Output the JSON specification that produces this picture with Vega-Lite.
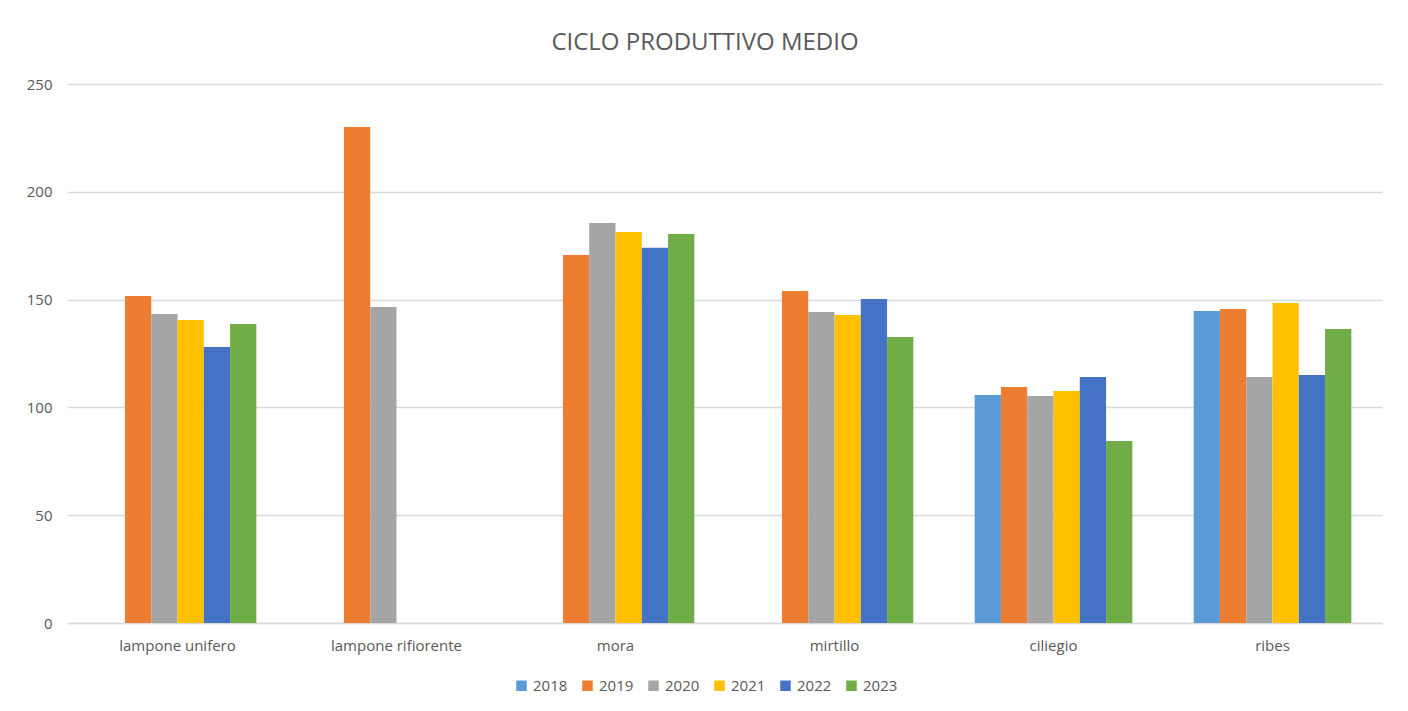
{
  "$schema": "https://vega.github.io/schema/vega-lite/v6.json",
  "width": 1314,
  "height": 539,
  "autosize": {"type": "none"},
  "padding": {"left": 68, "top": 84, "right": 26, "bottom": 88},
  "background": "white",
  "title": {
    "text": "CICLO PRODUTTIVO MEDIO",
    "font": "Open Sans",
    "fontSize": 24,
    "fontWeight": "normal",
    "color": "#595959",
    "anchor": "middle",
    "dx": -20,
    "offset": 22
  },
  "data": {
    "values": [
      {"coltura": "lampone unifero", "anno": "2019", "valore": 151.7},
      {"coltura": "lampone unifero", "anno": "2020", "valore": 143.3},
      {"coltura": "lampone unifero", "anno": "2021", "valore": 140.5},
      {"coltura": "lampone unifero", "anno": "2022", "valore": 128.0},
      {"coltura": "lampone unifero", "anno": "2023", "valore": 138.7},
      {"coltura": "lampone rifiorente", "anno": "2019", "valore": 230.0},
      {"coltura": "lampone rifiorente", "anno": "2020", "valore": 146.6},
      {"coltura": "mora", "anno": "2019", "valore": 170.7},
      {"coltura": "mora", "anno": "2020", "valore": 185.5},
      {"coltura": "mora", "anno": "2021", "valore": 181.4},
      {"coltura": "mora", "anno": "2022", "valore": 174.0},
      {"coltura": "mora", "anno": "2023", "valore": 180.4},
      {"coltura": "mirtillo", "anno": "2019", "valore": 154.0},
      {"coltura": "mirtillo", "anno": "2020", "valore": 144.2},
      {"coltura": "mirtillo", "anno": "2021", "valore": 142.9},
      {"coltura": "mirtillo", "anno": "2022", "valore": 150.3},
      {"coltura": "mirtillo", "anno": "2023", "valore": 132.7},
      {"coltura": "ciliegio", "anno": "2018", "valore": 105.8},
      {"coltura": "ciliegio", "anno": "2019", "valore": 109.5},
      {"coltura": "ciliegio", "anno": "2020", "valore": 105.3},
      {"coltura": "ciliegio", "anno": "2021", "valore": 107.6},
      {"coltura": "ciliegio", "anno": "2022", "valore": 114.1},
      {"coltura": "ciliegio", "anno": "2023", "valore": 84.4},
      {"coltura": "ribes", "anno": "2018", "valore": 144.7},
      {"coltura": "ribes", "anno": "2019", "valore": 145.6},
      {"coltura": "ribes", "anno": "2020", "valore": 114.1},
      {"coltura": "ribes", "anno": "2021", "valore": 148.4},
      {"coltura": "ribes", "anno": "2022", "valore": 115.0},
      {"coltura": "ribes", "anno": "2023", "valore": 136.4}
    ]
  },
  "mark": {"type": "bar"},
  "encoding": {
    "x": {
      "field": "coltura",
      "type": "nominal",
      "sort": ["lampone unifero", "lampone rifiorente", "mora", "mirtillo", "ciliegio", "ribes"],
      "scale": {"paddingInner": 0.28, "paddingOuter": 0.14},
      "axis": {
        "title": null,
        "labelAngle": 0,
        "labelFont": "Open Sans",
        "labelFontSize": 15,
        "labelColor": "#595959",
        "labelPadding": 15,
        "ticks": false,
        "domainColor": "#D9D9D9",
        "domainWidth": 1.5
      }
    },
    "xOffset": {
      "field": "anno",
      "type": "nominal",
      "scale": {"domain": ["2018", "2019", "2020", "2021", "2022", "2023"], "paddingInner": 0, "paddingOuter": 0}
    },
    "y": {
      "field": "valore",
      "type": "quantitative",
      "scale": {"domain": [0, 250]},
      "axis": {
        "title": null,
        "values": [0, 50, 100, 150, 200, 250],
        "labelFont": "Open Sans",
        "labelFontSize": 15,
        "labelColor": "#595959",
        "labelPadding": 16,
        "ticks": false,
        "domain": false,
        "gridColor": "#D9D9D9",
        "gridWidth": 1.5
      }
    },
    "color": {
      "field": "anno",
      "type": "nominal",
      "scale": {
        "domain": ["2018", "2019", "2020", "2021", "2022", "2023"],
        "range": ["#5B9BD5", "#ED7D31", "#A5A5A5", "#FFC000", "#4472C4", "#70AD47"]
      },
      "legend": {
        "title": null,
        "orient": "none",
        "legendX": 446,
        "legendY": 594,
        "direction": "horizontal",
        "symbolType": "square",
        "symbolSize": 110,
        "symbolStrokeWidth": 0,
        "labelFont": "Open Sans",
        "labelFontSize": 15,
        "labelColor": "#595959",
        "columnPadding": 12,
        "labelOffset": 4
      }
    }
  },
  "config": {
    "view": {"stroke": null}
  }
}
